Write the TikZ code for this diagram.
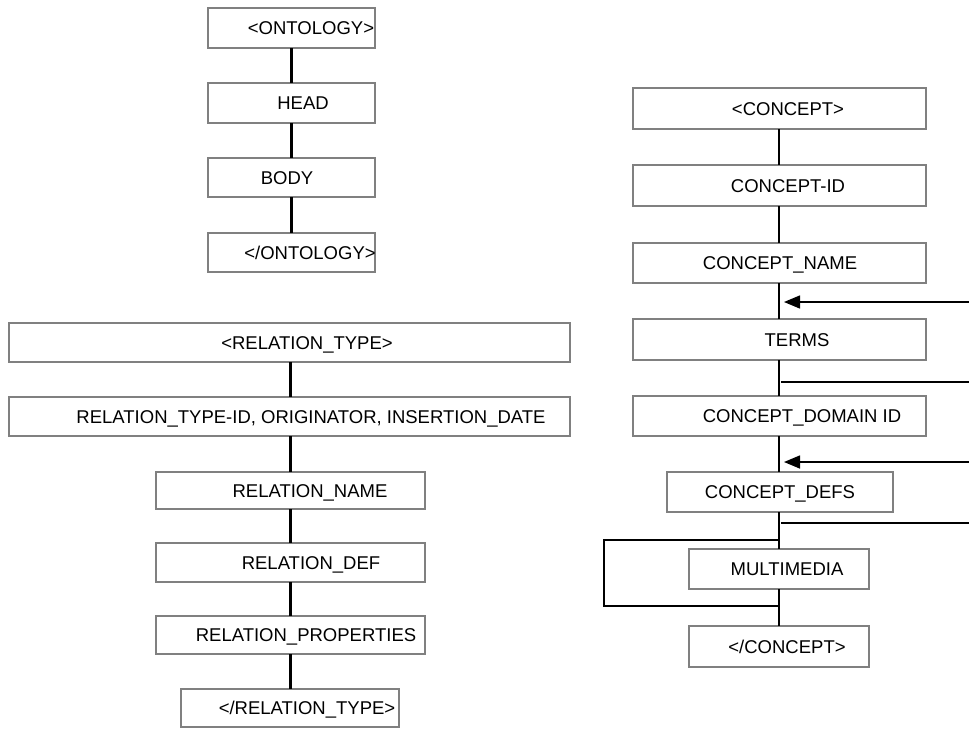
\documentclass[tikz,border=0pt]{standalone}
\usepackage{fontspec}
\setmainfont{Liberation Sans}
\usetikzlibrary{arrows.meta}
\definecolor{boxgray}{RGB}{128,128,128}
\tikzset{
  boxst/.style={draw=boxgray, line width=2.6pt, fill=white, inner sep=0pt, outer sep=0pt, rectangle},
  txt/.style={inner sep=0pt, text height=13.2pt, text depth=0pt, font=\fontsize{18.5}{22}\selectfont, text=black},
  vconn/.style={line width=2.6pt, black},
  hconn/.style={line width=1.5pt, black},
  harrow/.style={line width=1.5pt, black, -{Triangle[length=16pt,width=13pt]}}
}
\newcommand\mybox[7]{%
  \node[boxst, minimum width={#4-#2}, minimum height={#5-#3}] (#1) at ({(#2+#4)/2},{(#3+#5)/2}) {};
  \node[txt] (#1t) at (#6,{(#3+#5)/2}) {#7};}
\begin{document}
\begin{tikzpicture}[x=1pt,y=-1pt]
\useasboundingbox (0,0) rectangle (969,729);
% ontology column
\mybox{ont1}{208}{8}{375}{48}{311}{<ONTOLOGY>}
\mybox{head}{208}{83}{375}{123}{303}{HEAD}
\mybox{body}{208}{158}{375}{197}{287}{BODY}
\mybox{ont2}{208}{233}{375}{272}{310}{</ONTOLOGY>}
\draw[vconn] (ont1.south) -- (ont1.south |- head.north);
\draw[vconn] (head.south) -- (head.south |- body.north);
\draw[vconn] (body.south) -- (body.south |- ont2.north);
% relation column
\mybox{rt1}{9}{323}{570}{362}{307}{<RELATION\_TYPE>}
\mybox{rt2}{9}{397}{570}{436}{311}{RELATION\_TYPE-ID, ORIGINATOR, INSERTION\_DATE}
\mybox{rn}{156}{472}{425}{509}{310}{RELATION\_NAME}
\mybox{rd}{156}{543}{425}{582}{311}{RELATION\_DEF}
\mybox{rp}{156}{616}{425}{654}{306}{RELATION\_PROPERTIES}
\mybox{rt3}{181}{689}{399}{727}{307}{</RELATION\_TYPE>}
\draw[vconn] (rn.north |- rt1.south) -- (rn.north |- rt2.north);
\draw[vconn] (rn.north |- rt2.south) -- (rn.north);
\draw[vconn] (rn.south) -- (rn.south |- rd.north);
\draw[vconn] (rd.south) -- (rd.south |- rp.north);
\draw[vconn] (rp.south) -- (rp.south |- rt3.north);
% concept column
\mybox{c1}{633}{88}{926}{129}{788}{<CONCEPT>}
\mybox{cid}{633}{165}{926}{206}{788}{CONCEPT-ID}
\mybox{cname}{633}{243}{926}{283}{780}{CONCEPT\_NAME}
\mybox{terms}{633}{319}{926}{360}{797}{TERMS}
\mybox{cdom}{633}{396}{926}{436}{802}{CONCEPT\_DOMAIN ID}
\mybox{cdefs}{667}{472}{893}{512}{780}{CONCEPT\_DEFS}
\mybox{mm}{689}{549}{869}{589}{787}{MULTIMEDIA}
\mybox{c2}{689}{626}{869}{667}{787}{</CONCEPT>}
\draw[vconn] (mm.north |- c1.south) -- (mm.north |- cid.north);
\draw[vconn] (mm.north |- cid.south) -- (mm.north |- cname.north);
\draw[vconn] (mm.north |- cname.south) -- (mm.north |- terms.north);
\draw[vconn] (mm.north |- terms.south) -- (mm.north |- cdom.north);
\draw[vconn] (mm.north |- cdom.south) -- (mm.north |- cdefs.north);
\draw[vconn] (mm.north |- cdefs.south) -- (mm.north);
\draw[vconn] (mm.south) -- (c2.north);
% side inputs
\coordinate (a1s) at (969,302); \coordinate (a1e) at (784,302);
\coordinate (l1s) at (969,382); \coordinate (l1e) at (781,382);
\coordinate (a2s) at (969,462); \coordinate (a2e) at (784,462);
\coordinate (l2s) at (969,523); \coordinate (l2e) at (781,523);
\draw[harrow] (a1s) -- (a1e);
\draw[hconn] (l1s) -- (l1e);
\draw[harrow] (a2s) -- (a2e);
\draw[hconn] (l2s) -- (l2e);
% loop around multimedia
\coordinate (lpa) at (779,540); \coordinate (lpb) at (604,540);
\coordinate (lpc) at (604,606); \coordinate (lpd) at (779,606);
\draw[hconn] (lpa) -- (lpb) -- (lpc) -- (lpd);
\end{tikzpicture}
\end{document}
